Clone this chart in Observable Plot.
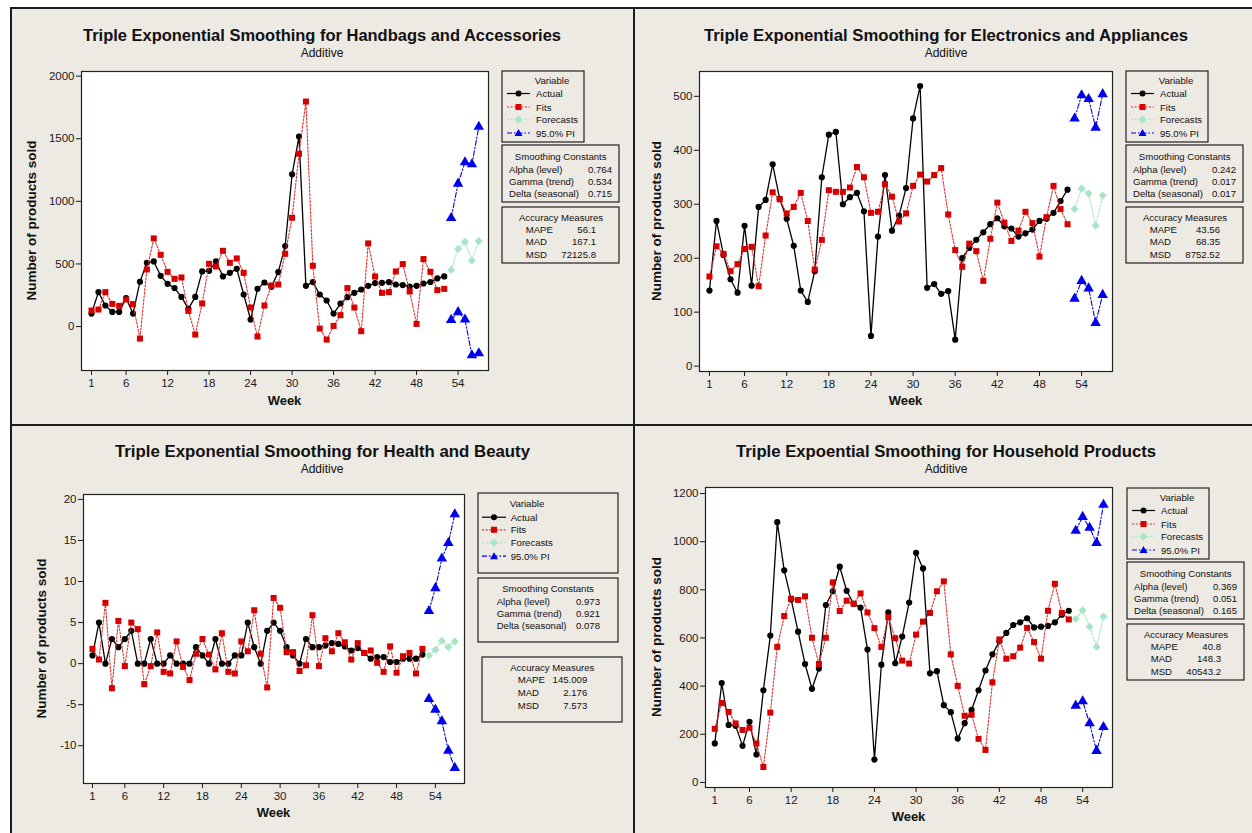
<!DOCTYPE html>
<html><head><meta charset="utf-8">
<script src="https://cdn.jsdelivr.net/npm/d3@7"></script>
<script src="https://cdn.jsdelivr.net/npm/@observablehq/plot@0.6"></script>
<style>
body{margin:0;background:#fff;}
#root{position:relative;width:1252px;height:833px;overflow:hidden;background:#fff;font-family:"Liberation Sans",Arial,sans-serif;}
.panel{position:absolute;background:#ede9e3;box-sizing:border-box;border:2px solid #1c1c1c;}
.plot{position:absolute;}
#overlay{position:absolute;left:0;top:0;pointer-events:none;}
</style></head><body><div id="root"></div>
<script>
// ---------- data ----------
const weeks = d3.range(1, 53);
const forecastWeeks = [53, 54, 55, 56, 57];
const xTicks = [1, 6, 12, 18, 24, 30, 36, 42, 48, 54];

const handbagsActual = [104,275,168,117,117,227,104,357,509,520,405,341,307,237,141,237,440,445,520,400,429,461,256,56,301,352,317,435,643,1216,1517,325,355,256,208,104,184,235,269,296,325,347,349,355,336,331,320,325,344,355,384,400];
const handbagsFits = [128,136,275,181,165,216,179,-96,456,704,573,437,381,392,125,-64,184,501,480,605,509,544,429,152,-80,168,328,336,581,869,1381,1797,485,-16,-104,5,91,307,152,-37,664,400,269,275,440,499,280,21,539,437,291,301];
const handbagsForecast = [451,619,677,528,683];
const handbagsUpper = [867,1141,1312,1296,1595];
const handbagsLower = [53,115,56,-229,-213];

const electronicsActual = [140,269,206,161,136,260,149,295,308,374,310,273,223,140,119,176,350,429,434,300,313,321,287,56,240,354,251,279,330,459,519,145,152,134,139,49,200,219,234,248,263,274,259,255,240,246,253,269,273,284,306,327];
const electronicsFits = [166,222,208,176,189,217,221,148,242,322,309,283,295,321,269,179,234,326,323,323,331,369,350,284,286,337,314,268,283,334,355,342,354,367,281,215,184,227,213,158,236,303,266,232,251,286,265,203,276,334,291,263];
const electronicsForecast = [291,329,320,260,316];
const electronicsUpper = [459,502,495,442,504];
const electronicsLower = [125,158,144,80,132];

const healthActual = [1,5,0,3,2,3,4,0,0,3,0,0,1,0,0,0,2,1,0,3,0,0,1,1,5,2,0,4,5,4,2,1,0,3,2,2,2.2,2.5,2.4,2.1,1.6,1.9,1.3,0.6,0.8,0.8,0.2,0.2,0.6,0.6,0.6,1.1];
const healthFits = [1.8,0.5,7.4,-3.0,5.2,-0.3,5.0,4.2,-2.5,-0.3,3.8,-1.0,-1.2,2.7,-0.4,-2.0,1.2,3.0,1.1,-0.7,3.7,-1.0,-1.2,2.7,1.5,6.5,1.2,-2.9,8.0,6.8,1.4,1.4,-0.9,-0.2,5.9,-0.3,3.1,1.5,3.7,2.6,0.5,2.5,1.3,1.6,0.1,-1.0,2.1,-1.1,0.9,1.3,-1.2,1.8];
const healthForecast = [1.0,1.7,2.8,2.0,2.7];
const healthUpper = [6.4,9.2,12.8,14.7,18.2];
const healthLower = [-4.3,-5.6,-7.0,-10.6,-12.7];

const householdActual = [162,413,239,235,152,252,116,383,610,1081,881,760,626,492,389,473,737,794,896,796,742,726,552,95,489,706,495,606,747,954,889,453,462,321,292,182,246,301,383,465,532,586,621,654,665,682,644,647,650,665,697,713];
const householdFits = [223,330,293,245,218,227,162,64,290,563,691,763,758,773,601,492,601,831,712,755,742,785,706,641,563,686,599,506,494,614,668,704,794,835,532,401,277,281,181,135,416,594,514,524,560,642,583,514,713,825,704,677];
const householdForecast = [679,715,647,564,689];
const householdUpper = [1045,1103,1058,995,1153];
const householdLower = [319,337,246,131,230];

const titles = [
  "Triple Exponential Smoothing for Handbags and Accessories",
  "Triple Exponential Smoothing for Electronics and Appliances",
  "Triple Exponential Smoothing for Health and Beauty",
  "Triple Expoential Smoothing for Household Products"
];
const subtitle = "Additive";
const yLabel = "Number of products sold";
const xLabel = "Week";
const legendNames = ["Actual", "Fits", "Forecasts", "95.0% PI"];
const constantNames = ["Alpha (level)", "Gamma (trend)", "Delta (seasonal)"];
const accuracyNames = ["MAPE", "MAD", "MSD"];
const handbagsConstants = ["0.764", "0.534", "0.715"];
const handbagsAccuracy = ["56.1", "167.1", "72125.8"];
const electronicsConstants = ["0.242", "0.017", "0.017"];
const electronicsAccuracy = ["43.56", "68.35", "8752.52"];
const healthConstants = ["0.973", "0.921", "0.078"];
const healthAccuracy = ["145.009", "2.176", "7.573"];
const householdConstants = ["0.369", "0.051", "0.165"];
const householdAccuracy = ["40.8", "148.3", "40543.2"];

const handbagsYTicks = [0, 500, 1000, 1500, 2000];
const electronicsYTicks = [0, 100, 200, 300, 400, 500];
const healthYTicks = [-10, -5, 0, 5, 10, 15, 20];
const householdYTicks = [0, 200, 400, 600, 800, 1000, 1200];

// ---------- styles ----------
const C = {actual: "#000", fits: "#d60000", fitsLine: "#e23030", forecast: "#a6e6c4", pi: "#0000ee"};
const FONT = "'Liberation Sans', Arial, sans-serif";
const LEG_FS = 9.6;

const root = document.getElementById("root");
const pairs = (xs, ys) => xs.map((w, i) => ({week: w, value: ys[i]}));

const panels = [
  {box: [10, 7, 625, 419], frame: [81, 71, 488, 370], xDomain: [-0.45, 58.4], yDomain: [-351, 2037], yTicks: handbagsYTicks,
   actual: handbagsActual, fits: handbagsFits, fc: handbagsForecast, up: handbagsUpper, lo: handbagsLower,
   title: titles[0], titleX: 83, titleW: 478, titleY: 41, subY: 57, cx: 322,
   yl: [36, 220.5], xl: [284.5, 405], consts: handbagsConstants, acc: handbagsAccuracy, leg: [0, 0]},
  {box: [633, 7, 630, 419], frame: [699, 71, 1112, 371], xDomain: [-0.42, 58.4], yDomain: [-10, 546], yTicks: electronicsYTicks,
   actual: electronicsActual, fits: electronicsFits, fc: electronicsForecast, up: electronicsUpper, lo: electronicsLower,
   title: titles[1], titleX: 704, titleW: 484, titleY: 41, subY: 57, cx: 946,
   yl: [661, 221], xl: [905.5, 405], consts: electronicsConstants, acc: electronicsAccuracy, leg: [624, 0]},
  {box: [10, 424, 625, 420], frame: [83, 494, 464, 783], xDomain: [-0.39, 58.5], yDomain: [-14.6, 20.6], yTicks: healthYTicks,
   actual: healthActual, fits: healthFits, fc: healthForecast, up: healthUpper, lo: healthLower,
   title: titles[2], titleX: 115, titleW: 415, titleY: 457, subY: 473, cx: 322,
   yl: [46, 638.5], xl: [273.5, 817], consts: healthConstants, acc: healthAccuracy, leg: null},
  {box: [633, 424, 630, 420], frame: [705, 487, 1112, 787], xDomain: [-0.34, 58.3], yDomain: [-21, 1225], yTicks: householdYTicks,
   actual: householdActual, fits: householdFits, fc: householdForecast, up: householdUpper, lo: householdLower,
   title: titles[3], titleX: 736, titleW: 420, titleY: 457, subY: 473, cx: 946,
   yl: [661, 637], xl: [908.5, 821], consts: householdConstants, acc: householdAccuracy, leg: [625, 417]}
];

// panel backgrounds
for (const p of panels) {
  const d = document.createElement("div");
  d.className = "panel";
  Object.assign(d.style, {left: p.box[0] + "px", top: p.box[1] + "px", width: p.box[2] + "px", height: p.box[3] + "px"});
  root.appendChild(d);
}

// plots
for (const p of panels) {
  const mL = 50, mR = 10, mT = 10, mB = 40;
  const [fl, ft, fr, fb] = p.frame;
  const W = fr - fl + mL + mR, H = fb - ft + mT + mB;
  const actual = pairs(weeks, p.actual), fits = pairs(weeks, p.fits);
  const fc = pairs(forecastWeeks, p.fc), up = pairs(forecastWeeks, p.up), lo = pairs(forecastWeeks, p.lo);
  const chart = Plot.plot({
    width: W, height: H, marginLeft: mL, marginRight: mR, marginTop: mT, marginBottom: mB,
    style: {background: "transparent", fontFamily: FONT, fontSize: "11.5px", color: "#1a1a1a", overflow: "visible"},
    x: {domain: p.xDomain, ticks: xTicks, tickSize: 5, tickPadding: 3, tickFormat: d => String(d), label: null},
    y: {domain: p.yDomain, ticks: p.yTicks, tickSize: 5, tickPadding: 2, tickFormat: d => String(d), label: null},
    marks: [
      Plot.frame({fill: "white"}),
      Plot.line(actual, {x: "week", y: "value", stroke: C.actual, strokeWidth: 1.3}),
      Plot.dot(actual, {x: "week", y: "value", fill: C.actual, r: 3.1, symbol: "circle"}),
      Plot.line(fits, {x: "week", y: "value", stroke: C.fitsLine, strokeWidth: 1.1, strokeDasharray: "2,1.6"}),
      Plot.dot(fits, {x: "week", y: "value", fill: C.fits, r: 3.4, symbol: "square"}),
      Plot.line(fc, {x: "week", y: "value", stroke: C.forecast, strokeWidth: 1.1, strokeDasharray: "2,1.6"}),
      Plot.dot(fc, {x: "week", y: "value", fill: C.forecast, r: 3.6, symbol: "diamond2"}),
      Plot.line(up, {x: "week", y: "value", stroke: C.pi, strokeWidth: 1.1, strokeDasharray: "5,2,1.5,2"}),
      Plot.dot(up, {x: "week", y: "value", fill: C.pi, r: 3.9, symbol: "triangle"}),
      Plot.line(lo, {x: "week", y: "value", stroke: C.pi, strokeWidth: 1.1, strokeDasharray: "5,2,1.5,2"}),
      Plot.dot(lo, {x: "week", y: "value", fill: C.pi, r: 3.9, symbol: "triangle"}),
      Plot.frame({stroke: "#222", strokeWidth: 1.2})
    ]
  });
  const holder = document.createElement("div");
  holder.className = "plot";
  Object.assign(holder.style, {left: (fl - mL) + "px", top: (ft - mT) + "px", width: W + "px", height: H + "px"});
  holder.appendChild(chart);
  root.appendChild(holder);
}

// overlay: titles, axis labels, legends
const NS = "http://www.w3.org/2000/svg";
const svg = document.createElementNS(NS, "svg");
svg.setAttribute("id", "overlay");
svg.setAttribute("width", 1252); svg.setAttribute("height", 833);
svg.style.fontFamily = FONT;
root.appendChild(svg);
function el(tag, attrs, text) {
  const e = document.createElementNS(NS, tag);
  for (const k in attrs) e.setAttribute(k, attrs[k]);
  if (text != null) e.textContent = text;
  svg.appendChild(e);
  return e;
}
function txt(x, y, s, o = {}) {
  return el("text", Object.assign({x, y, "font-size": LEG_FS, fill: "#111"}, o), s);
}
function marker(kind, x, y, color) {
  if (kind === "circle") el("circle", {cx: x, cy: y, r: 3, fill: color});
  else if (kind === "square") el("rect", {x: x - 3, y: y - 3, width: 6, height: 6, fill: color});
  else if (kind === "diamond") el("path", {d: `M${x},${y-4}L${x+4},${y}L${x},${y+4}L${x-4},${y}Z`, fill: color});
  else el("path", {d: `M${x},${y-4}L${x+4},${y+3}L${x-4},${y+3}Z`, fill: color});
}
const legendStyles = [
  {kind: "circle", color: C.actual, line: C.actual, dash: null},
  {kind: "square", color: C.fits, line: C.fitsLine, dash: "2,1.6"},
  {kind: "diamond", color: C.forecast, line: C.forecast, dash: "2,1.6"},
  {kind: "triangle", color: C.pi, line: C.pi, dash: "5,2,1.5,2"}
];
function drawLegend(L, consts, acc) {
  el("rect", {x: L.b1[0], y: L.b1[1], width: L.b1[2], height: L.b1[3], fill: "none", stroke: "#222", "stroke-width": 1.2});
  txt(L.varX, L.varY, "Variable", {"text-anchor": "middle"});
  legendNames.forEach((n, i) => {
    const y = L.rows[i];
    const s = legendStyles[i];
    const a = {x1: L.line[0], x2: L.line[1], y1: y - 3.5, y2: y - 3.5, stroke: s.line, "stroke-width": 1.2};
    if (s.dash) a["stroke-dasharray"] = s.dash;
    el("line", a);
    marker(s.kind, (L.line[0] + L.line[1]) / 2, y - 3.5, s.color);
    txt(L.textX, y, n);
  });
  el("rect", {x: L.b2[0], y: L.b2[1], width: L.b2[2], height: L.b2[3], fill: "none", stroke: "#222", "stroke-width": 1.2});
  txt(L.t2[0], L.t2[1], "Smoothing Constants", {"text-anchor": "middle"});
  constantNames.forEach((n, i) => {
    txt(L.c2[0], L.r2[i], n);
    txt(L.c2[1], L.r2[i], consts[i], {"text-anchor": "end"});
  });
  el("rect", {x: L.b3[0], y: L.b3[1], width: L.b3[2], height: L.b3[3], fill: "none", stroke: "#222", "stroke-width": 1.2});
  txt(L.t3[0], L.t3[1], "Accuracy Measures", {"text-anchor": "middle"});
  accuracyNames.forEach((n, i) => {
    txt(L.c3[0], L.r3[i], n);
    txt(L.c3[1], L.r3[i], acc[i], {"text-anchor": "end"});
  });
}
const baseLegend = {
  b1: [502, 71, 82, 71], varX: 552, varY: 84, rows: [97, 110.5, 123, 136.5], line: [507, 530], textX: 536,
  b2: [502, 145, 117, 57], t2: [560.7, 159.5], c2: [509, 612], r2: [173, 185, 197],
  b3: [502, 207, 117, 56], t3: [561, 220.5], c3: [525.7, 596], r3: [233, 245, 258]
};
function shift(L, dx, dy) {
  return {
    b1: [L.b1[0] + dx, L.b1[1] + dy, L.b1[2], L.b1[3]], varX: L.varX + dx, varY: L.varY + dy,
    rows: L.rows.map(r => r + dy), line: L.line.map(v => v + dx), textX: L.textX + dx,
    b2: [L.b2[0] + dx, L.b2[1] + dy, L.b2[2], L.b2[3]], t2: [L.t2[0] + dx, L.t2[1] + dy], c2: L.c2.map(v => v + dx), r2: L.r2.map(r => r + dy),
    b3: [L.b3[0] + dx, L.b3[1] + dy, L.b3[2], L.b3[3]], t3: [L.t3[0] + dx, L.t3[1] + dy], c3: L.c3.map(v => v + dx), r3: L.r3.map(r => r + dy)
  };
}
const healthLegend = {
  b1: [478, 493, 140, 80], varX: 527, varY: 507, rows: [520.7, 533.3, 546.3, 559.7], line: [482, 506], textX: 510.7,
  b2: [478, 578, 140, 64], t2: [548, 591.7], c2: [496.7, 600], r2: [605, 617.3, 629],
  b3: [482, 657, 140, 65], t3: [552.3, 670.7], c3: [517.7, 587.3], r3: [683, 696.3, 709]
};

for (const p of panels) {
  txt(p.titleX, p.titleY, p.title, {"font-size": 16, "font-weight": "bold", textLength: p.titleW, lengthAdjust: "spacingAndGlyphs"});
  txt(p.cx, p.subY, subtitle, {"font-size": 12, "text-anchor": "middle"});
  txt(0, 0, yLabel, {"font-size": 12.5, "font-weight": "bold", "text-anchor": "middle",
    transform: `translate(${p.yl[0]},${p.yl[1]}) rotate(-90)`, textLength: 160, lengthAdjust: "spacingAndGlyphs"});
  txt(p.xl[0], p.xl[1], xLabel, {"font-size": 13, "font-weight": "bold", "text-anchor": "middle"});
  const L = p.leg ? shift(baseLegend, p.leg[0], p.leg[1]) : healthLegend;
  drawLegend(L, p.consts, p.acc);
}
</script></body></html>
